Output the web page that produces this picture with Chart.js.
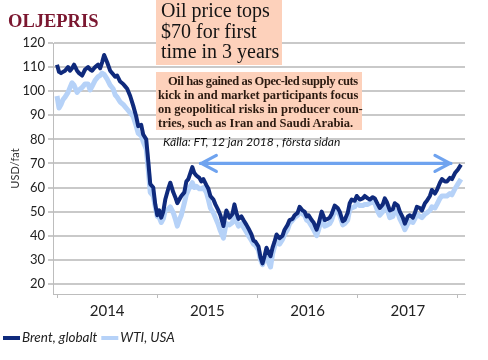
<!DOCTYPE html>
<html><head><meta charset="utf-8">
<script src="https://cdn.jsdelivr.net/npm/chart.js@4.4.1/dist/chart.umd.min.js"></script>
<style>
html,body{margin:0;padding:0;background:#fff;}
#wrap{position:relative;width:488px;height:360px;overflow:hidden;}
canvas{position:absolute;left:0;top:0;}
.ov{position:absolute;white-space:nowrap;}
#title{left:8px;top:12px;font:bold 18.5px/1 "Liberation Serif",serif;color:#7b1730;}
#head{left:156px;top:0;width:126px;height:65px;background:#fdd1bb;font:20px/20.5px "Liberation Serif",serif;color:#141414;box-sizing:border-box;padding-left:5px;}
#note{left:156px;top:72px;width:206px;height:58px;background:#fdd1bb;font:bold 12.5px/14.2px "Liberation Serif",serif;color:#2b1a10;box-sizing:border-box;padding:1.7px 0 0 2px;}
#note .l1{padding-left:10px;letter-spacing:-0.4px;}
#src{left:163px;top:136px;font:italic 12px/1 Lato,sans-serif;color:#111;}
</style></head>
<body><div id="wrap"><canvas id="c" width="488" height="360"></canvas>
<div class="ov" id="title">OLJEPRIS</div>
<div class="ov" id="head">Oil price tops<br>$70 for first<br>time in 3 years</div>
<div class="ov" id="note"><span class="l1">Oil has gained as Opec-led supply cuts</span><br>kick in and market participants focus<br>on geopolitical risks in producer coun-<br>tries, such as Iran and Saudi Arabia.</div>
<div class="ov" id="src">Källa: FT, 12 jan 2018 , första sidan</div>
</div>
<script>
const dates = [2014.00,2014.02,2014.04,2014.06,2014.08,2014.11,2014.13,2014.15,2014.17,2014.20,2014.22,2014.25,2014.28,2014.31,2014.33,2014.35,2014.38,2014.41,2014.43,2014.45,2014.47,2014.50,2014.53,2014.56,2014.58,2014.60,2014.63,2014.66,2014.68,2014.70,2014.73,2014.76,2014.79,2014.81,2014.84,2014.86,2014.89,2014.91,2014.93,2014.96,2014.98,
2015.00,2015.02,2015.04,2015.06,2015.08,2015.11,2015.13,2015.16,2015.18,2015.20,2015.22,2015.24,2015.27,2015.29,2015.31,2015.33,2015.35,2015.37,2015.39,2015.42,2015.44,2015.46,2015.49,2015.51,2015.53,2015.56,2015.58,2015.61,2015.63,2015.66,2015.68,2015.69,2015.72,2015.75,2015.77,2015.79,2015.81,2015.84,2015.86,2015.89,2015.91,2015.94,2015.96,2015.98,
2016.01,2016.03,2016.05,2016.07,2016.09,2016.11,2016.13,2016.15,2016.17,2016.19,2016.22,2016.25,2016.27,2016.30,2016.32,2016.35,2016.37,2016.40,2016.42,2016.45,2016.47,2016.49,2016.51,2016.54,2016.56,2016.59,2016.61,2016.64,2016.66,2016.67,2016.70,2016.72,2016.74,2016.77,2016.80,2016.82,2016.85,2016.87,2016.90,2016.92,2016.94,2016.97,2016.99,
2017.02,2017.05,2017.07,2017.10,2017.12,2017.15,2017.17,2017.20,2017.22,2017.25,2017.27,2017.29,2017.32,2017.35,2017.37,2017.40,2017.42,2017.45,2017.47,2017.50,2017.52,2017.55,2017.57,2017.59,2017.62,2017.64,2017.67,2017.69,2017.72,2017.74,2017.77,2017.79,2017.82,2017.84,2017.87,2017.89,2017.92,2017.94,2017.97,2018.00,2018.03];
const brent = [111.0,108.0,107.5,108.0,108.5,110.0,108.5,109.5,111.0,108.5,107.5,106.5,109.0,110.0,109.0,108.5,110.0,111.0,109.5,112.0,115.0,112.0,108.5,107.0,106.0,106.5,104.0,103.0,102.0,101.0,98.0,94.0,89.5,85.5,86.0,82.0,80.0,71.0,61.5,60.0,53.0,
48.5,50.5,47.5,50.0,55.0,59.5,62.0,58.0,56.0,53.5,55.0,56.5,58.0,62.5,63.5,66.0,68.5,66.0,65.0,64.0,62.5,63.5,61.0,59.5,56.5,55.0,53.0,50.5,48.5,44.0,48.5,50.5,47.5,49.0,53.0,49.5,47.0,48.0,46.5,44.5,43.0,40.5,38.0,37.5,
35.5,31.0,28.5,31.5,35.0,33.0,31.5,35.0,37.5,40.5,39.0,40.0,42.5,44.5,46.5,47.0,48.5,49.5,52.0,50.5,50.0,48.0,48.5,46.5,45.5,42.5,45.0,50.0,48.0,46.5,47.0,47.5,49.0,52.5,51.5,50.0,46.0,46.5,49.5,53.5,55.0,54.5,56.5,
55.0,55.5,56.5,55.5,55.0,56.0,55.5,53.0,51.5,53.0,55.5,54.0,50.5,51.0,53.5,52.5,50.0,47.5,45.0,48.0,48.5,47.5,49.5,52.0,51.5,50.5,53.5,54.5,56.5,59.0,57.5,59.0,62.0,63.5,62.5,62.5,64.0,63.5,66.0,67.5,69.5];
const wti = [98.0,93.0,94.5,96.5,97.5,99.5,101.5,103.5,102.5,99.5,100.5,101.5,103.0,103.0,100.5,102.0,104.5,106.0,106.5,107.5,107.0,105.0,102.5,101.0,98.5,97.5,95.5,94.5,93.5,92.5,91.0,89.5,85.5,82.5,81.5,79.0,76.0,67.5,58.0,56.5,52.0,
48.0,47.5,45.5,47.0,50.5,51.0,52.0,49.5,47.0,44.0,46.5,48.5,53.5,57.0,59.0,60.5,62.0,60.0,60.5,59.5,59.5,60.0,58.0,55.0,51.5,49.5,47.5,44.5,42.0,39.0,43.5,45.0,44.5,45.5,48.5,46.0,44.0,45.0,43.5,41.5,40.0,38.0,36.5,36.0,
34.0,30.0,28.0,30.5,31.5,29.0,27.0,32.5,35.5,38.0,36.5,38.5,40.5,42.5,45.0,46.5,47.5,48.5,50.0,49.0,48.5,46.5,46.0,44.0,42.5,40.0,42.5,47.5,45.5,44.0,44.5,45.0,46.5,50.5,50.0,48.5,44.5,45.0,46.5,51.0,51.5,52.0,53.5,
52.5,52.5,53.0,53.0,53.5,54.0,53.5,50.0,48.5,50.0,52.5,51.5,47.5,48.0,50.5,49.5,47.0,44.5,42.5,45.0,46.0,45.5,47.0,49.0,48.0,47.5,49.0,49.5,50.5,52.0,51.5,53.0,55.5,56.5,56.5,56.5,57.5,57.0,59.5,61.5,63.5];
const seriesNames = ['Brent, globalt', 'WTI, USA'];
const seriesColors = ['#0f2a7c', '#b6d2f8'];
const years = ['2014', '2015', '2016', '2017'];
const yTicks = [20, 30, 40, 50, 60, 70, 80, 90, 100, 110, 120];
const arrowSpan = [2015.43, 2017.93];
const arrowLevel = 70;

const yearBounds = years.map(Number).concat([Number(years[years.length-1]) + 1]);
const xTickVals = [];
yearBounds.forEach((b, i) => { xTickVals.push(b); if (i < years.length) xTickVals.push(b + 0.5); });

const arrowPlugin = {
  id: 'arrow',
  afterDatasetsDraw(chart) {
    const {ctx, scales: {x, y}} = chart;
    const x1 = x.getPixelForValue(arrowSpan[0]), x2 = x.getPixelForValue(arrowSpan[1]);
    const yy = y.getPixelForValue(arrowLevel);
    ctx.save();
    ctx.strokeStyle = '#6fa3ef';
    ctx.lineWidth = 3.2;
    ctx.lineCap = 'round';
    ctx.lineJoin = 'round';
    ctx.beginPath();
    ctx.moveTo(x1, yy); ctx.lineTo(x2, yy);
    ctx.moveTo(x1 + 16, yy - 8); ctx.lineTo(x1 + 1, yy); ctx.lineTo(x1 + 16, yy + 8);
    ctx.moveTo(x2 - 16, yy - 8); ctx.lineTo(x2 - 1, yy); ctx.lineTo(x2 - 16, yy + 8);
    ctx.stroke();
    ctx.restore();
  }
};

const legendPlugin = {
  id: 'customLegend',
  afterDraw(chart) {
    const ctx = chart.ctx;
    ctx.save();
    ctx.font = 'italic 13.5px Lato, sans-serif';
    ctx.textBaseline = 'middle';
    let lx = 3; const ly = 338;
    chart.data.datasets.forEach(ds => {
      ctx.strokeStyle = ds.borderColor;
      ctx.lineWidth = 4;
      ctx.beginPath(); ctx.moveTo(lx, ly); ctx.lineTo(lx + 17, ly); ctx.stroke();
      lx += 19;
      ctx.fillStyle = '#222';
      ctx.fillText(ds.label, lx, ly);
      lx += ctx.measureText(ds.label).width + 4;
    });
    ctx.restore();
  }
};

new Chart(document.getElementById('c'), {
  type: 'line',
  data: {
    datasets: [
      { label: seriesNames[0], data: dates.map((d, i) => ({x: d, y: brent[i]})), borderColor: seriesColors[0], borderWidth: 4, pointRadius: 0, tension: 0, borderJoinStyle: 'round' },
      { label: seriesNames[1], data: dates.map((d, i) => ({x: d, y: wti[i]})), borderColor: seriesColors[1], borderWidth: 5, pointRadius: 0, tension: 0, borderJoinStyle: 'round' }
    ]
  },
  options: {
    responsive: false,
    animation: false,
    devicePixelRatio: 1,
    layout: { padding: { left: 0, right: 23, top: 43, bottom: 36 } },
    plugins: { legend: { display: false }, tooltip: { enabled: false } },
    scales: {
      x: {
        type: 'linear', min: 2013.96, max: 2018.07,
        afterBuildTicks: s => { s.ticks = xTickVals.map(v => ({value: v})); },
        afterFit: s => { s.height = 30; },
        grid: { drawOnChartArea: false, tickLength: 4, lineWidth: 1,
          tickColor: c => (c.tick && Number.isInteger(c.tick.value)) ? '#bdbdbd' : 'rgba(0,0,0,0)' },
        border: { display: true, color: '#bdbdbd', width: 1 },
        ticks: { autoSkip: false, maxRotation: 0, padding: 4, color: '#222',
          font: { family: 'Lato', size: 15 },
          callback: v => Number.isInteger(v) ? '' : years[Math.floor(v) - yearBounds[0]] }
      },
      y: {
        min: 15.8, max: 120,
        afterBuildTicks: s => { s.ticks = yTicks.map(v => ({value: v})); },
        afterFit: s => { s.width = 53; },
        grid: { color: '#c9c9c9', lineWidth: 2, tickLength: 5 },
        border: { display: true, color: '#bdbdbd', width: 1 },
        ticks: { padding: 3, color: '#222', font: { family: 'Lato', size: 13 } },
        title: { display: true, text: 'USD/fat', color: '#333', font: { family: 'Lato', size: 11 }, padding: { top: 9, bottom: 0 } }
      }
    }
  },
  plugins: [arrowPlugin, legendPlugin]
});
</script>
</body></html>
